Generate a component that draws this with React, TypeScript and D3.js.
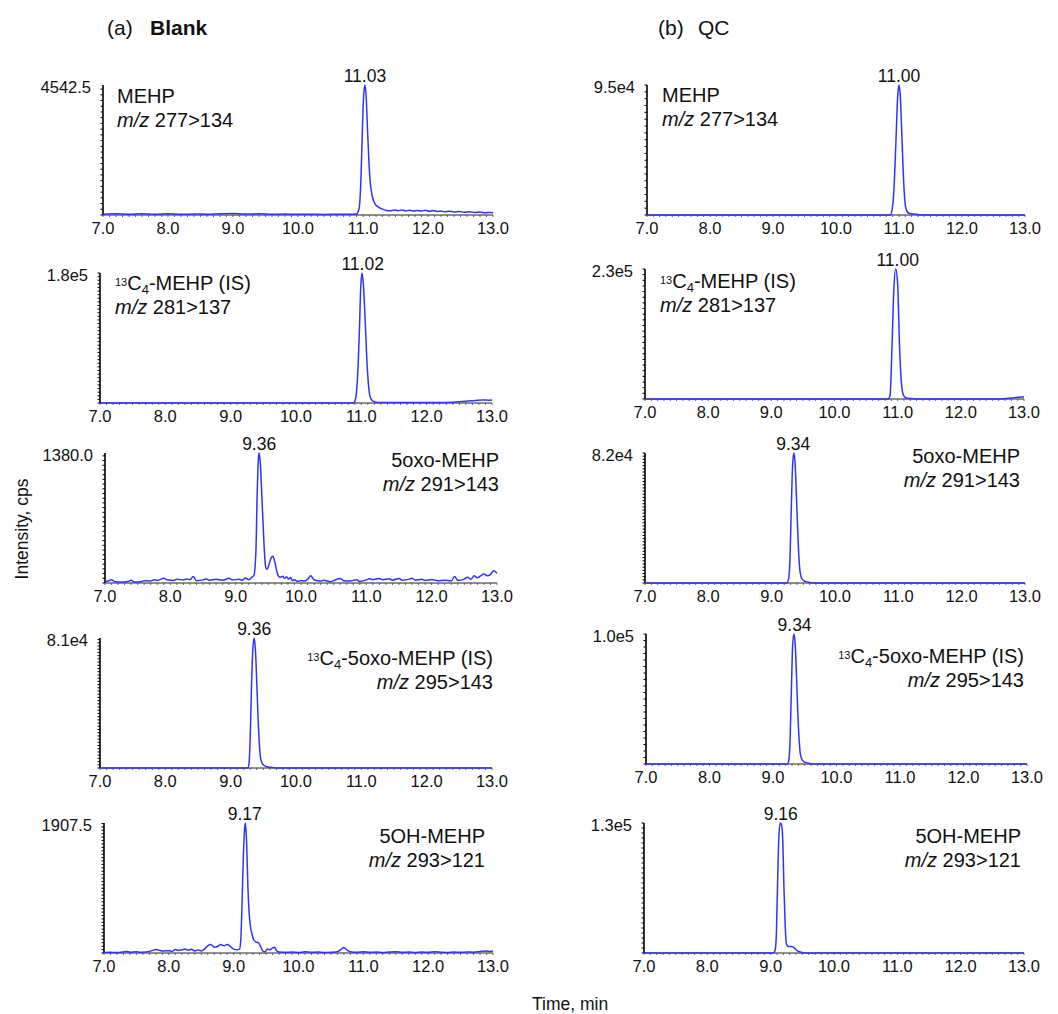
import React from "react";
import * as d3 from "d3";

// chromatogram panels: rows are compounds, columns are (a) Blank and (b) QC
const xTicks = [7, 8, 9, 10, 11, 12, 13];
const compounds = ["MEHP", "13C4-MEHP (IS)", "5oxo-MEHP", "13C4-5oxo-MEHP (IS)", "5OH-MEHP"];
const transitions = ["277>134", "281>137", "291>143", "295>143", "293>121"];

const blankMax = [4542.5, 1.8e5, 1380.0, 8.1e4, 1907.5];
const blankMaxLabels = ["4542.5", "1.8e5", "1380.0", "8.1e4", "1907.5"];
const qcMax = [9.5e4, 2.3e5, 8.2e4, 1.0e5, 1.3e5];
const qcMaxLabels = ["9.5e4", "2.3e5", "8.2e4", "1.0e5", "1.3e5"];

const blankRT = [11.03, 11.02, 9.36, 9.36, 9.17];
const qcRT = [11.0, 11.0, 9.34, 9.34, 9.16];

// traces: [time (min), % of panel max]
const blankMEHP = [
  [7.0, 0.6], [7.2, 0.9], [7.4, 0.5], [7.6, 1.0], [7.8, 0.6], [8.0, 0.9], [8.2, 0.5], [8.4, 0.8],
  [8.6, 0.6], [8.8, 1.0], [9.0, 1.2], [9.2, 0.7], [9.4, 0.9], [9.6, 0.5], [9.8, 0.7], [10.0, 0.5],
  [10.2, 0.6], [10.4, 0.4], [10.6, 0.6], [10.8, 0.5], [10.9, 0.8], [10.94, 5], [10.97, 30],
  [10.99, 65], [11.01, 92], [11.03, 100], [11.05, 90], [11.07, 65], [11.09, 42], [11.11, 26],
  [11.14, 15], [11.18, 9], [11.24, 6], [11.3, 4.5], [11.36, 3.5], [11.42, 3.2], [11.48, 3.9],
  [11.54, 3.3], [11.6, 3.8], [11.66, 3.1], [11.72, 3.6], [11.78, 3.0], [11.84, 3.4], [11.9, 3.0],
  [11.96, 3.7], [12.02, 2.9], [12.08, 3.4], [12.14, 2.7], [12.2, 3.1], [12.26, 2.5], [12.32, 2.9],
  [12.4, 2.4], [12.48, 2.7], [12.56, 2.1], [12.64, 2.5], [12.72, 1.9], [12.8, 2.3], [12.88, 1.7],
  [12.96, 2.0], [13.0, 1.8],
];
const blankMEHPIS = [
  [7.0, 0], [10.88, 0], [10.91, 3], [10.94, 18], [10.97, 55], [10.99, 88], [11.01, 100],
  [11.03, 92], [11.06, 62], [11.09, 28], [11.12, 9], [11.15, 3], [11.2, 1], [11.3, 0.3],
  [12.2, 0.3], [12.4, 0.6], [12.6, 1.3], [12.75, 2.0], [12.85, 2.4], [12.95, 2.2], [13.0, 2.3],
];
const blank5oxo = [
  [7.0, 1], [7.05, 1.5], [7.1, 2.5], [7.15, 1], [7.25, 0.8], [7.35, 1.2], [7.4, 2.2], [7.45, 0.8],
  [7.55, 1], [7.6, 1.8], [7.7, 1.5], [7.75, 2.5], [7.8, 2], [7.9, 3.6], [7.95, 2.5], [8.05, 2],
  [8.1, 2.8], [8.2, 2.4], [8.25, 3], [8.3, 2.6], [8.35, 5], [8.4, 1.8], [8.5, 2.4], [8.55, 3],
  [8.6, 2.2], [8.7, 2.8], [8.8, 2.2], [8.9, 3.6], [8.95, 2.4], [9.05, 2.8], [9.1, 2.2], [9.15, 3.8],
  [9.2, 2.5], [9.25, 4.5], [9.28, 6], [9.31, 25], [9.33, 70], [9.35, 97], [9.36, 100], [9.38, 90],
  [9.4, 68], [9.42, 45], [9.44, 24], [9.46, 12], [9.48, 10.5], [9.51, 14], [9.54, 19], [9.57, 20.5],
  [9.6, 16], [9.63, 9], [9.66, 5], [9.69, 4.5], [9.72, 5.2], [9.75, 3.5], [9.78, 4.8], [9.81, 3],
  [9.84, 4.2], [9.87, 1.8], [9.9, 2.5], [9.95, 1.2], [10.0, 2], [10.05, 1.5], [10.1, 2.8],
  [10.15, 5.5], [10.2, 2.5], [10.3, 1.5], [10.35, 2.2], [10.45, 1], [10.5, 1.8], [10.6, 3.5],
  [10.65, 1.8], [10.75, 1.5], [10.85, 2.5], [10.9, 1.2], [11.0, 2.4], [11.05, 3.2], [11.1, 2.6],
  [11.2, 3.5], [11.25, 2.5], [11.35, 3.2], [11.4, 2.2], [11.5, 3.5], [11.55, 2.2], [11.65, 2.8],
  [11.7, 3.6], [11.75, 2.2], [11.85, 2.8], [11.9, 2], [12.0, 2.6], [12.1, 1.8], [12.2, 2.2],
  [12.3, 1.5], [12.35, 5], [12.4, 2], [12.5, 3], [12.55, 4.5], [12.6, 2.8], [12.65, 5.5],
  [12.7, 4], [12.75, 5.5], [12.8, 7], [12.85, 5.5], [12.9, 6.5], [12.95, 9.5], [13.0, 7.5],
];
const blank5oxoIS = [
  [7.0, 0], [9.26, 0], [9.28, 3], [9.3, 25], [9.32, 65], [9.34, 92], [9.36, 100], [9.38, 90],
  [9.4, 65], [9.42, 38], [9.44, 18], [9.46, 7], [9.49, 3], [9.54, 1.2], [9.62, 0.5], [9.7, 0],
  [13.0, 0],
];
const blank5OH = [
  [7.0, 0.3], [7.1, 0.5], [7.2, 0.3], [7.3, 0.8], [7.35, 1.2], [7.4, 0.6], [7.5, 0.9], [7.55, 0.5],
  [7.65, 0.8], [7.7, 1.2], [7.75, 2], [7.8, 2.6], [7.85, 2.2], [7.9, 1.5], [8.0, 1.8], [8.05, 1.2],
  [8.1, 2.6], [8.15, 2], [8.2, 2.4], [8.25, 3], [8.3, 2.2], [8.35, 2.8], [8.4, 1.5], [8.45, 2.4],
  [8.5, 1.6], [8.55, 3], [8.6, 5.5], [8.65, 6.5], [8.7, 4.5], [8.75, 5], [8.8, 6.5], [8.85, 5.5],
  [8.9, 6.5], [8.95, 5], [9.0, 3], [9.05, 2.5], [9.09, 3], [9.11, 10], [9.13, 40], [9.15, 75],
  [9.17, 96], [9.18, 100], [9.2, 85], [9.22, 50], [9.24, 30], [9.26, 20], [9.28, 15], [9.31, 10],
  [9.34, 8.5], [9.38, 8], [9.42, 4.5], [9.45, 1.5], [9.48, 0.8], [9.52, 3], [9.56, 2.5], [9.6, 4],
  [9.63, 4.5], [9.66, 2], [9.7, 0.8], [9.8, 0.5], [9.9, 0.8], [10.0, 0.4], [10.1, 0.9], [10.2, 0.5],
  [10.3, 0.8], [10.4, 0.4], [10.5, 0.6], [10.6, 1], [10.65, 2.5], [10.7, 4.2], [10.75, 2.2],
  [10.8, 1], [10.9, 0.6], [11.0, 0.9], [11.1, 0.5], [11.2, 0.8], [11.3, 0.4], [11.4, 0.7],
  [11.5, 0.9], [11.6, 0.5], [11.7, 0.7], [11.8, 0.4], [11.9, 0.8], [12.0, 0.5], [12.1, 0.9],
  [12.2, 0.6], [12.3, 0.4], [12.4, 0.7], [12.5, 0.5], [12.6, 0.8], [12.7, 0.6], [12.8, 1.2],
  [12.9, 1.6], [12.95, 1.2], [13.0, 1.5],
];

const qcMEHP = [
  [7.0, 0], [10.86, 0], [10.89, 4], [10.92, 20], [10.95, 55], [10.98, 92], [11.0, 100],
  [11.02, 92], [11.05, 55], [11.08, 20], [11.11, 5], [11.15, 1.5], [11.22, 0.8], [11.3, 0.4],
  [11.4, 0], [13.0, 0],
];
const qcMEHPIS = [
  [7.0, 0], [10.85, 0], [10.88, 3], [10.91, 40], [10.94, 85], [10.97, 100], [11.0, 88],
  [11.03, 40], [11.06, 12], [11.09, 3], [11.13, 1], [11.2, 0.3], [11.3, 0], [12.6, 0],
  [12.8, 0.8], [12.9, 1.4], [13.0, 1.6],
];
const qc5oxo = [
  [7.0, 0], [9.24, 0], [9.27, 4], [9.29, 20], [9.31, 58], [9.33, 90], [9.35, 100], [9.37, 92],
  [9.39, 68], [9.41, 42], [9.43, 20], [9.45, 8], [9.48, 3], [9.53, 1.2], [9.6, 0.4], [9.7, 0],
  [13.0, 0],
];
const qc5oxoIS = [
  [7.0, 0], [9.23, 0], [9.25, 3], [9.27, 20], [9.29, 58], [9.31, 92], [9.33, 100], [9.35, 92],
  [9.37, 68], [9.39, 40], [9.41, 20], [9.43, 8], [9.46, 3], [9.51, 1.2], [9.58, 0.4], [9.65, 0],
  [13.0, 0],
];
const qc5OH = [
  [7.0, 0], [9.04, 0], [9.07, 2], [9.09, 15], [9.11, 55], [9.13, 90], [9.15, 100], [9.17, 99],
  [9.19, 88], [9.21, 50], [9.23, 20], [9.25, 7], [9.28, 5], [9.32, 5], [9.36, 4.5], [9.4, 2.5],
  [9.45, 1], [9.5, 0.4], [9.6, 0], [13.0, 0],
];

const blankTraces = [blankMEHP, blankMEHPIS, blank5oxo, blank5oxoIS, blank5OH];
const qcTraces = [qcMEHP, qcMEHPIS, qc5oxo, qc5oxoIS, qc5OH];

// layout of each panel (pixels)
const PANEL_H = 130;
const blankFrames = [
  { x0: 103, x1: 493, top: 85, anchor: "start", nx: 14, ny: 18 },
  { x0: 100, x1: 492, top: 273, anchor: "start", nx: 15, ny: 17 },
  { x0: 105, x1: 497, top: 453, anchor: "end", nx: 2, ny: 14 },
  { x0: 100, x1: 492, top: 638, anchor: "end", nx: 1, ny: 27 },
  { x0: 104, x1: 493, top: 823, anchor: "end", nx: -8, ny: 20 },
];
const qcFrames = [
  { x0: 647, x1: 1025, top: 85, anchor: "start", nx: 15, ny: 17 },
  { x0: 645, x1: 1024, top: 269, anchor: "start", nx: 15, ny: 19 },
  { x0: 645, x1: 1025, top: 453, anchor: "end", nx: -5, ny: 10 },
  { x0: 646, x1: 1027, top: 634, anchor: "end", nx: -3, ny: 29 },
  { x0: 644, x1: 1024, top: 823, anchor: "end", nx: -3, ny: 20 },
];

const FONT = "'Liberation Sans', Arial, sans-serif";
const INK = "#111";
const TRACE = "#3232ff";

function Name({ name }) {
  if (name.startsWith("13C4")) {
    return (
      <>
        <tspan fontSize={11} dy={-4}>13</tspan>
        <tspan fontSize={20} dy={4}>C</tspan>
        <tspan fontSize={13} dy={4}>4</tspan>
        <tspan fontSize={20} dy={-4}>{name.slice(4)}</tspan>
      </>
    );
  }
  return <>{name}</>;
}

function Panel({ frame, trace, maxValue, maxLabel, rt, name, transition }) {
  const base = frame.top + PANEL_H;
  const x = d3.scaleLinear().domain([7, 13]).range([frame.x0, frame.x1]);
  const y = d3.scaleLinear().domain([0, maxValue]).range([base, frame.top]);
  const line = d3
    .line()
    .x((d) => x(d[0]))
    .y((d) => y((d[1] * maxValue) / 100))
    .curve(d3.curveMonotoneX);

  const nx = frame.anchor === "start" ? frame.x0 + frame.nx : frame.x1 + frame.nx;
  const ny = frame.top + frame.ny;

  return (
    <g fontFamily={FONT} fill={INK}>
      {/* y axis with dense minor ticks */}
      <line x1={frame.x0} x2={frame.x0} y1={frame.top} y2={base} stroke="#000" strokeWidth={1.6} />
      {y.ticks(30).map((t) => (
        <line key={t} x1={frame.x0 - 2.5} x2={frame.x0} y1={y(t)} y2={y(t)} stroke="#000" strokeWidth={1} />
      ))}
      <text x={frame.x0 - 12} y={frame.top + 8} fontSize={16.5} textAnchor="end">
        {maxLabel}
      </text>

      {/* x axis */}
      <line x1={frame.x0} x2={frame.x1} y1={base} y2={base} stroke="#222" strokeWidth={1} />
      {x.ticks(60).map((t) => (
        <line key={t} x1={x(t)} x2={x(t)} y1={base} y2={base + 2} stroke="#444" strokeWidth={0.8} />
      ))}
      {xTicks.map((t) => (
        <text key={t} x={x(t)} y={base + 18.5} fontSize={16.5} textAnchor="middle">
          {t.toFixed(1)}
        </text>
      ))}

      <path d={line(trace)} fill="none" stroke={TRACE} strokeWidth={1.5} strokeLinejoin="round" />

      <text x={x(rt)} y={frame.top - 3} fontSize={17.5} textAnchor="middle">
        {rt.toFixed(2)}
      </text>

      <text x={nx} y={ny} fontSize={20} textAnchor={frame.anchor}>
        <Name name={name} />
      </text>
      <text x={nx} y={ny + 24} fontSize={20} textAnchor={frame.anchor}>
        <tspan fontStyle="italic">m/z</tspan> {transition}
      </text>
    </g>
  );
}

export default function App() {
  return (
    <svg
      width={1058}
      height={1014}
      style={{ position: "absolute", left: 0, top: 0, background: "#fff" }}
    >
      <g fontFamily={FONT} fill={INK}>
        <text x={107} y={35} fontSize={21}>(a)</text>
        <text x={150} y={35} fontSize={21} fontWeight="bold">Blank</text>
        <text x={658} y={35} fontSize={21}>(b)</text>
        <text x={698} y={35} fontSize={21}>QC</text>
        <text transform="translate(28,529) rotate(-90)" fontSize={17.5} textAnchor="middle">
          Intensity, cps
        </text>
        <text x={532} y={1010} fontSize={17.5}>Time, min</text>
      </g>
      {compounds.map((c, i) => (
        <Panel
          key={"b" + i}
          frame={blankFrames[i]}
          trace={blankTraces[i]}
          maxValue={blankMax[i]}
          maxLabel={blankMaxLabels[i]}
          rt={blankRT[i]}
          name={c}
          transition={transitions[i]}
        />
      ))}
      {compounds.map((c, i) => (
        <Panel
          key={"q" + i}
          frame={qcFrames[i]}
          trace={qcTraces[i]}
          maxValue={qcMax[i]}
          maxLabel={qcMaxLabels[i]}
          rt={qcRT[i]}
          name={c}
          transition={transitions[i]}
        />
      ))}
    </svg>
  );
}
